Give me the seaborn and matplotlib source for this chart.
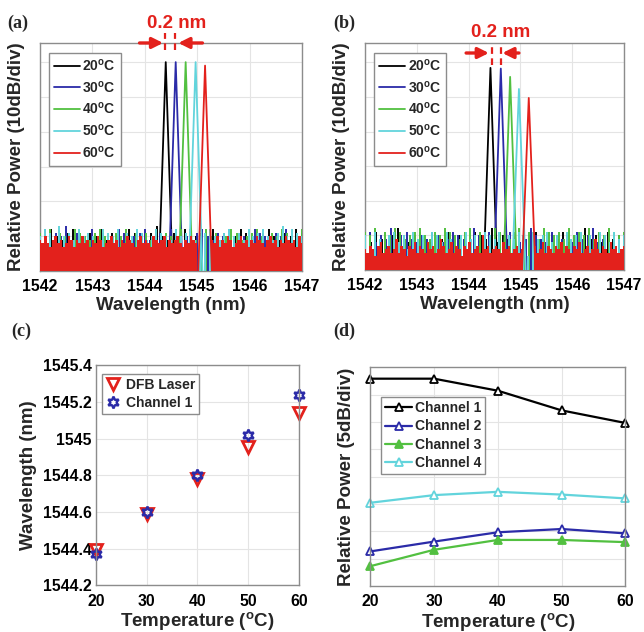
import numpy as np
import pandas as pd
import matplotlib
matplotlib.use("Agg")
import matplotlib.pyplot as plt
import seaborn as sns

# ---- panel (a)/(b): optical spectra ----
TEMPS = [20, 30, 40, 50, 60]
TRACE_COLORS = ['#000000', '#2b2ba8', '#52c040', '#62d4dc', '#e3211c']

A_PEAK_WL = [1544.40, 1544.59, 1544.78, 1544.97, 1545.15]
A_PEAK_DB = [60.0, 60.0, 60.0, 60.0, 59.0]
B_PEAK_WL = [1544.42, 1544.62, 1544.80, 1544.97, 1545.16]
B_PEAK_DB = [58.4, 58.2, 55.8, 52.3, 49.7]

# noise floor (dB above the bottom of the axis)
A_NOISE_20 = [11, 9, 12, 10, 9, 11, 12, 10, 9, 11, 10, 12, 9, 11, 10, 9, 12, 11, 10, 9, 11, 13, 10, 9,
              11, 10, 12, 9, 10, 11, 9, 12, 10, 11, 9, 10, 12, 11, 9, 10, 11, 12, 10, 9, 11, 10, 12, 11]
A_NOISE_30 = [10, 12, 9, 11, 10, 13, 9, 11, 10, 9, 12, 10, 11, 9, 10, 12, 11, 9, 10, 11, 12, 9, 10, 11, 9, 12,
              10, 11, 10, 9, 11, 12, 10, 9, 11, 10, 12, 9, 11, 10, 9, 12, 11, 10, 9, 11, 10, 12, 9, 10, 11]
A_NOISE_40 = [11, 10, 12, 9, 11, 10, 9, 12, 11, 10, 9, 11, 12, 10, 9, 11, 10, 12, 9, 11, 10, 11, 9, 12, 10, 11, 10,
              9, 12, 11, 10, 9, 11, 12, 10, 11, 9, 10, 12, 11, 9, 10, 11, 12, 10, 9, 11, 10, 12, 11, 9, 10, 12]
A_NOISE_50 = [10, 12, 11, 9, 13, 10, 11, 9, 12, 10, 11, 10, 9, 12, 11, 10, 12, 9, 11, 10, 12, 11, 9, 10, 12, 11, 10, 9,
              12, 10, 11, 12, 9, 10, 11, 12, 10, 9, 11, 12, 10, 11, 9, 12, 10, 11, 12, 10, 9, 11, 13, 10, 12, 11, 10]
A_NOISE_60 = [9, 8, 10, 8, 7, 9, 10, 8, 9, 7, 8, 10, 9, 7, 9, 8, 10, 8, 9, 7,
              9, 8, 10, 9, 7, 8, 9, 10, 8, 9, 7, 9, 8, 10, 9, 8, 7, 9, 10, 8,
              9, 8, 7, 10, 9, 8, 9, 10, 7, 9, 8, 9, 10, 8, 7, 9, 8, 10, 9, 8,
              0, 0, 0, 0, 0, 9, 8, 10, 7, 9, 8, 10, 9, 7, 8, 9, 10, 8, 9, 7,
              9, 8, 10, 9, 8, 7, 9, 10, 8, 9, 7, 9, 8, 10, 9, 8, 9, 7, 10, 8]

B_NOISE_20 = [10, 8, 11, 9, 7, 10, 12, 9, 8, 10, 11, 9, 8, 10, 9, 11, 8, 10, 9, 7, 11, 10, 9, 12,
              8, 10, 9, 11, 8, 9, 10, 11, 9, 8, 10, 9, 11, 8, 10, 9, 12, 9, 10, 8, 11, 9, 10, 9]
B_NOISE_30 = [9, 11, 8, 10, 9, 12, 8, 10, 11, 9, 8, 10, 9, 11, 10, 8, 9, 11, 10, 9, 8, 12, 10, 9, 11, 8,
              10, 9, 11, 10, 8, 9, 12, 10, 9, 8, 11, 10, 9, 10, 8, 11, 9, 10, 12, 8, 9, 11, 10, 9, 10]
B_NOISE_40 = [11, 10, 12, 9, 11, 10, 12, 11, 9, 10, 11, 12, 10, 9, 11, 10, 12, 11, 10, 9, 11, 12, 10, 11, 9, 10, 12,
              11, 10, 9, 11, 12, 10, 11, 10, 9, 12, 11, 10, 11, 9, 12, 10, 11, 10, 12, 9, 11, 10, 12, 11, 10, 11]
B_NOISE_50 = [10, 6, 11, 9, 5, 10, 11, 8, 10, 6, 11, 9, 10, 5, 11, 10, 8, 11, 9, 6, 10, 11, 9, 10, 5, 11, 10, 9,
              11, 6, 10, 9, 11, 10, 4, 11, 9, 10, 11, 8, 10, 6, 11, 9, 10, 11, 5, 10, 9, 11, 10, 8, 11, 9, 10]
B_NOISE_60 = [6, 5, 7, 6, 4, 7, 8, 5, 6, 7, 5, 6, 9, 5, 7, 6, 4, 7, 6, 8,
              5, 7, 6, 5, 8, 6, 7, 5, 6, 9, 7, 5, 6, 8, 5, 7, 6, 4, 7, 6,
              8, 5, 6, 7, 5, 10, 6, 7, 5, 6, 7, 6, 5, 8, 6, 7, 5, 6, 7, 5,
              6, 0, 0, 0, 0, 7, 5, 6, 8, 5, 7, 6, 5, 7, 6, 8, 5, 7, 6, 5,
              7, 6, 8, 5, 6, 7, 5, 6, 9, 6, 5, 7, 6, 5, 8, 6, 7, 5, 6, 7]

# ---- panel (c): peak wavelength vs temperature ----
TEMP_C = [20, 30, 40, 50, 60]
DFB_WL = [1544.39, 1544.59, 1544.78, 1544.956, 1545.14]
CH1_WL = [1544.37, 1544.60, 1544.80, 1545.02, 1545.24]

# ---- panel (d): relative power (dB) ----
CHANNELS = ['Channel 1', 'Channel 2', 'Channel 3', 'Channel 4']
POWER_CH1 = [37.9, 37.9, 35.7, 32.1, 29.8]
POWER_CH2 = [6.3, 8.1, 9.8, 10.4, 9.6]
POWER_CH3 = [3.6, 6.6, 8.4, 8.4, 8.0]
POWER_CH4 = [15.2, 16.6, 17.2, 16.7, 16.0]
CH_COLORS = ['#000000', '#2b2ba8', '#52c040', '#62d4dc']

RED = '#e3211c'
SPINE = '#8c8c8c'
PEAK_HW = 0.13
TICK_FS = 11.3
LABEL_FS = 13.5

sns.set_theme(style="whitegrid")
plt.rcParams['font.family'] = ['Liberation Sans', 'DejaVu Sans']
plt.rcParams['font.weight'] = 'bold'
plt.rcParams['axes.labelweight'] = 'bold'
plt.rcParams['mathtext.fontset'] = 'custom'
plt.rcParams['mathtext.rm'] = 'Liberation Sans:bold'
plt.rcParams['mathtext.bf'] = 'Liberation Sans:bold'
plt.rcParams['mathtext.it'] = 'Liberation Sans:bold'

DEG = r'$^{\mathbf{o}}$'


def style_axes(ax):
    for s in ax.spines.values():
        s.set_color(SPINE)
        s.set_linewidth(1.0)
        s.set_visible(True)
    ax.grid(True, color='#e4e4e4', lw=0.8)
    ax.tick_params(direction='in', length=3, width=0.8, color=SPINE,
                   labelsize=TICK_FS, pad=3, labelcolor='black')
    ax.tick_params(axis='x', pad=6)
    for t in ax.get_xticklabels() + ax.get_yticklabels():
        t.set_fontweight('bold')


def boxed_legend(ax, anchor, **kw):
    leg = ax.legend(loc='upper left', bbox_to_anchor=anchor, fontsize=10, borderaxespad=0,
                    fancybox=False, framealpha=1, **kw)
    leg.get_frame().set_edgecolor(SPINE)
    leg.get_frame().set_linewidth(1.0)
    for t in leg.get_texts():
        t.set_fontweight('bold')
    return leg


def draw_spectrum(ax, noises, peak_wl, peak_db, top):
    for i, (noise, wl, db, color, temp) in enumerate(zip(noises, peak_wl, peak_db, TRACE_COLORS, TEMPS)):
        x = np.linspace(1542, 1547, len(noise))
        if i < 4:
            ax.vlines(x, 0, noise, colors=color, lw=1.4, zorder=2 + i)
        else:
            ax.fill_between(x, 0, noise, step='mid', color=color, lw=0, zorder=2 + i)
        peak = pd.DataFrame({'wl': [wl - PEAK_HW, wl, wl + PEAK_HW], 'db': [0, db, 0]})
        sns.lineplot(data=peak, x='wl', y='db', color=color, lw=1.3, sort=False,
                     ax=ax, label=f'{temp}{DEG}C', zorder=2 + i)
    ax.set_xlim(1542, 1547)
    ax.set_ylim(0, top)
    ax.set_xticks([1542, 1543, 1544, 1545, 1546, 1547])
    ax.set_yticks([10, 20, 30, 40, 50, 60])
    ax.set_yticklabels([])
    ax.set_xlabel('Wavelength (nm)', fontsize=LABEL_FS, labelpad=2)
    ax.set_ylabel('Relative Power (10dB/div)', fontsize=LABEL_FS, labelpad=8)
    style_axes(ax)
    boxed_legend(ax, (0.035, 0.958), handlelength=1.9, handletextpad=0.15,
                 labelspacing=0.42, borderpad=0.35)


def span_marker(ax, tails, heads, arrow_y, dash_x, dash_y, text_xy):
    for tail, head in zip(tails, heads):
        ax.annotate('', xy=(head, arrow_y), xytext=(tail, arrow_y), annotation_clip=False,
                    arrowprops=dict(arrowstyle='-|>', color=RED, lw=2.4, mutation_scale=16,
                                    shrinkA=0, shrinkB=0), zorder=20)
    for dx in dash_x:
        ax.plot([dx, dx], dash_y, color=RED, lw=1.6, ls=(0, (3, 2)), clip_on=False, zorder=20)
    ax.text(text_xy[0], text_xy[1], '0.2 nm', color=RED, fontsize=13.5, fontweight='bold',
            ha='center', va='center', clip_on=False, zorder=20)


fig = plt.figure(figsize=(6.44, 6.32), dpi=100)
ax_a = fig.add_axes([0.062, 0.571, 0.407, 0.361])
ax_b = fig.add_axes([0.567, 0.573, 0.402, 0.359])
ax_c = fig.add_axes([0.149, 0.074, 0.315, 0.348])
ax_d = fig.add_axes([0.575, 0.073, 0.396, 0.346])

draw_spectrum(ax_a, [A_NOISE_20, A_NOISE_30, A_NOISE_40, A_NOISE_50, A_NOISE_60], A_PEAK_WL, A_PEAK_DB, 65.5)
draw_spectrum(ax_b, [B_NOISE_20, B_NOISE_30, B_NOISE_40, B_NOISE_50, B_NOISE_60], B_PEAK_WL, B_PEAK_DB, 65.6)
span_marker(ax_a, [1543.90, 1545.10], [1544.35, 1544.64], 65.5, [1544.39, 1544.58], [63.5, 68.4], (1544.60, 71.0))
span_marker(ax_b, [1543.95, 1544.97], [1544.39, 1544.65], 62.7, [1544.45, 1544.62], [59.2, 65.6], (1544.62, 68.5))

# (c)
sns.lineplot(x=TEMP_C, y=DFB_WL, ax=ax_c, color=RED, linestyle='none', marker='v', markersize=8.5,
             markerfacecolor='none', markeredgecolor=RED, markeredgewidth=2.0, label='DFB Laser')
sns.lineplot(x=TEMP_C, y=CH1_WL, ax=ax_c, color='#2b2ba8', linestyle='none', marker=(6, 1, 0), markersize=8.5,
             markerfacecolor='none', markeredgecolor='#2b2ba8', markeredgewidth=1.7, label='Channel 1')
ax_c.set_xlim(20, 60)
ax_c.set_ylim(1544.2, 1545.4)
ax_c.set_xticks([20, 30, 40, 50, 60])
yt = [1544.2, 1544.4, 1544.6, 1544.8, 1545.0, 1545.2, 1545.4]
ax_c.set_yticks(yt)
ax_c.set_yticklabels([f'{v:g}' for v in yt])
ax_c.set_xlabel(f'Temperature ({DEG}C)', fontsize=LABEL_FS, labelpad=1)
ax_c.set_ylabel('Wavelength (nm)', fontsize=LABEL_FS, labelpad=4)
style_axes(ax_c)
for line in ax_c.get_lines():
    line.set_clip_on(False)
boxed_legend(ax_c, (0.03, 0.96), handlelength=1.0, handletextpad=0.4,
             labelspacing=0.25, borderpad=0.3)

# (d)
for name, vals, color in zip(CHANNELS, [POWER_CH1, POWER_CH2, POWER_CH3, POWER_CH4], CH_COLORS):
    face = color if name == 'Channel 3' else 'white'
    sns.lineplot(x=TEMP_C, y=vals, ax=ax_d, color=color, lw=1.6, marker='^', markersize=6,
                 markerfacecolor=face, markeredgecolor=color, markeredgewidth=1.3, label=name)
ax_d.set_xlim(20, 60)
ax_d.set_ylim(0, 40)
ax_d.set_xticks([20, 30, 40, 50, 60])
ax_d.set_yticks([5, 10, 15, 20, 25, 30, 35])
ax_d.set_yticklabels([])
ax_d.set_xlabel(f'Temperature ({DEG}C)', fontsize=LABEL_FS, labelpad=1)
ax_d.set_ylabel('Relative Power (5dB/div)', fontsize=LABEL_FS, labelpad=8)
style_axes(ax_d)
for line in ax_d.get_lines():
    line.set_clip_on(False)
boxed_legend(ax_d, (0.04, 0.863), handlelength=2.0, handletextpad=0.15,
             labelspacing=0.3, borderpad=0.3)

for label, x, y in [('(a)', 0.012, 0.963), ('(b)', 0.518, 0.963), ('(c)', 0.018, 0.475), ('(d)', 0.518, 0.475)]:
    fig.text(x, y, label, fontsize=13, fontweight='bold', family='Liberation Serif', va='center')

fig.savefig('out.png', dpi=100)
